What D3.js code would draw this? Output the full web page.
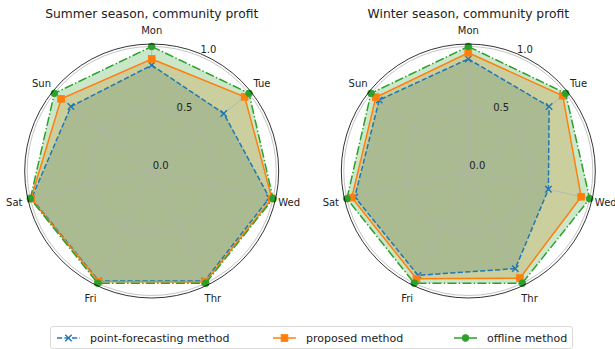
<!DOCTYPE html>
<html>
<head>
<meta charset="utf-8">
<script src="https://cdn.jsdelivr.net/npm/d3@7"></script>
<style>
  html, body { margin: 0; padding: 0; background: #ffffff; }
  svg { display: block; font-family: "DejaVu Sans", sans-serif; }
</style>
</head>
<body>
<svg id="chart" width="615" height="349"></svg>
<script>
// Weekday categories around each radar
const days = ["Mon", "Tue", "Wed", "Thr", "Fri", "Sat", "Sun"];

// Normalised community profit per day, summer season
const summerPoint    = [0.85, 0.74, 0.97, 0.98, 0.98, 0.99, 0.83];
const summerProposed = [0.90, 0.955, 0.99, 0.99, 0.985, 0.995, 0.93];
const summerOffline  = [1.0, 1.0, 1.0, 1.0, 1.0, 1.0, 1.0];

// Normalised community profit per day, winter season
const winterPoint    = [0.90, 0.83, 0.66, 0.87, 0.93, 0.935, 0.915];
const winterProposed = [0.95, 0.97, 0.93, 0.955, 0.96, 0.96, 0.95];
const winterOffline  = [1.0, 1.0, 1.0, 1.0, 1.0, 1.0, 1.0];

// Radial tick values
const rTicks = [0.0, 0.5, 1.0];
const rMax = 1.02;

const seriesNames = ["point-forecasting method", "proposed method", "offline method"];
const seriesColors = ["#1f77b4", "#ff7f0e", "#2ca02c"];
const seriesDash = ["5.2,2.3", null, "9,2.3,1.4,2.3"];
const seriesMarker = ["x", "square", "circle"];

const panels = [
  { title: "Summer season, community profit", cx: 151.7, cy: 171, values: [summerPoint, summerProposed, summerOffline] },
  { title: "Winter season, community profit", cx: 468.3, cy: 171, values: [winterPoint, winterProposed, winterOffline] }
];

const svg = d3.select("#chart");

const r = d3.scaleLinear().domain([0, rMax]).range([0, 127]);
const angle = d3.scaleLinear().domain([0, days.length]).range([0, 2 * Math.PI]);

function polar(a, rad) {
  return [rad * Math.sin(a), -rad * Math.cos(a)];
}

function drawMarker(g, type, x, y, color) {
  if (type === "x") {
    const s = 3.2;
    g.append("path")
      .attr("d", `M${x - s},${y - s}L${x + s},${y + s}M${x - s},${y + s}L${x + s},${y - s}`)
      .attr("stroke", color).attr("stroke-width", 1.4).attr("fill", "none");
  } else if (type === "square") {
    const s = 3.4;
    g.append("rect").attr("x", x - s).attr("y", y - s).attr("width", 2 * s).attr("height", 2 * s)
      .attr("fill", color).attr("stroke", color).attr("stroke-width", 0.8);
  } else {
    g.append("circle").attr("cx", x).attr("cy", y).attr("r", 3.4)
      .attr("fill", color).attr("stroke", color).attr("stroke-width", 0.8);
  }
}

panels.forEach(p => {
  const g = svg.append("g").attr("transform", `translate(${p.cx},${p.cy})`);

  const radial = d3.lineRadial()
    .angle((d, i) => angle(i))
    .radius(d => r(d))
    .curve(d3.curveLinearClosed);

  // Filled areas
  p.values.forEach((vals, k) => {
    g.append("path")
      .attr("d", radial(vals))
      .attr("fill", seriesColors[k])
      .attr("fill-opacity", 0.25)
      .attr("stroke", "none");
  });

  // Grid: circles and spokes
  rTicks.filter(t => t > 0).forEach(t => {
    g.append("circle").attr("r", r(t))
      .attr("fill", "none").attr("stroke", "#b0b0b0").attr("stroke-width", 0.75);
  });
  days.forEach((d, i) => {
    const [x, y] = polar(angle(i), r(rMax));
    g.append("line").attr("x1", 0).attr("y1", 0).attr("x2", x).attr("y2", y)
      .attr("stroke", "#b0b0b0").attr("stroke-width", 0.75);
  });

  // Lines and markers
  p.values.forEach((vals, k) => {
    g.append("path")
      .attr("d", radial(vals))
      .attr("fill", "none")
      .attr("stroke", seriesColors[k])
      .attr("stroke-width", 1.5)
      .attr("stroke-dasharray", seriesDash[k]);
    vals.forEach((v, i) => {
      const [x, y] = polar(angle(i), r(v));
      drawMarker(g, seriesMarker[k], x, y, seriesColors[k]);
    });
  });

  // Outer frame
  g.append("circle").attr("r", r(rMax))
    .attr("fill", "none").attr("stroke", "#000").attr("stroke-width", 0.8);

  // Category labels
  days.forEach((d, i) => {
    const [x, y] = polar(angle(i), r(rMax) + 14);
    g.append("text").attr("x", x).attr("y", y)
      .attr("text-anchor", "middle").attr("dominant-baseline", "central")
      .attr("font-size", 10).attr("fill", "#222").text(d);
  });

  // Radial tick labels along 22.5 degrees
  const la = 22.5 * Math.PI / 180;
  rTicks.forEach(t => {
    const [x, y] = polar(la, r(t));
    g.append("text").attr("x", x + 9).attr("y", y - 6)
      .attr("text-anchor", "middle").attr("dominant-baseline", "central")
      .attr("font-size", 10).attr("fill", "#222").text(t.toFixed(1));
  });

  // Title
  svg.append("text").attr("x", p.cx).attr("y", 14)
    .attr("text-anchor", "middle").attr("dominant-baseline", "central")
    .attr("font-size", 12.3).attr("fill", "#222").text(p.title);
});

// Legend
const legend = svg.append("g");
legend.append("rect").attr("x", 50.5).attr("y", 326.5).attr("width", 522).attr("height", 22).attr("rx", 2.5)
  .attr("fill", "#fff").attr("fill-opacity", 0.8).attr("stroke", "#d0d0d0").attr("stroke-width", 0.8);
const legendX = [57, 273, 454];
seriesNames.forEach((name, k) => {
  const lx = legendX[k], ly = 338;
  legend.append("line").attr("x1", lx).attr("x2", lx + 23).attr("y1", ly).attr("y2", ly)
    .attr("stroke", seriesColors[k]).attr("stroke-width", 1.5).attr("stroke-dasharray", seriesDash[k]);
  drawMarker(legend, seriesMarker[k], lx + 11.5, ly, seriesColors[k]);
  legend.append("text").attr("x", lx + 33).attr("y", ly)
    .attr("dominant-baseline", "central").attr("font-size", 11).attr("fill", "#222").text(name);
});
</script>
</body>
</html>
